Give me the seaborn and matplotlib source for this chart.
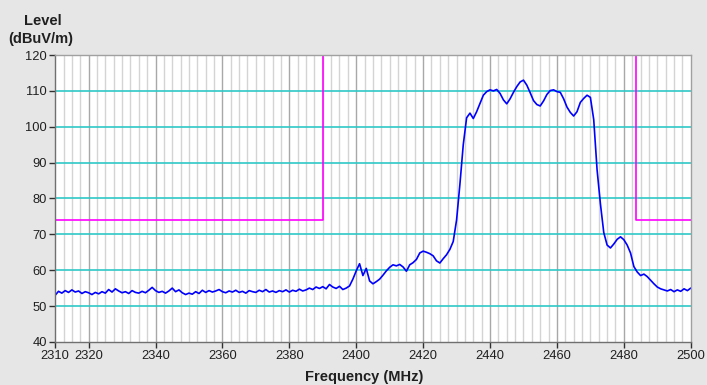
import matplotlib
matplotlib.use("Agg")
import matplotlib.pyplot as plt
import numpy as np
import seaborn as sns

# spectrum trace, one reading per MHz from 2310 to 2500
start_mhz = 2310
stop_mhz = 2500
level_dbuv = [
    53.0, 54.1, 53.6, 54.3, 53.8, 54.5, 53.9, 54.2, 53.5, 54.0,  # 2310
    53.7, 53.2, 53.8, 53.4, 54.0, 53.6, 54.6, 53.9, 54.8, 54.2,  # 2320
    53.7, 54.0, 53.5, 54.3, 53.8, 53.6, 54.1, 53.7, 54.4, 55.2,  # 2330
    54.3, 53.8, 54.1, 53.6, 54.2, 55.0, 54.0, 54.5, 53.7, 53.2,  # 2340
    53.6, 53.3, 54.0, 53.5, 54.4, 53.8, 54.3, 53.9, 54.2, 54.6,  # 2350
    54.0, 53.7, 54.2, 53.9, 54.4, 53.8, 54.1, 53.6, 54.3, 54.0,  # 2360
    53.8, 54.4, 54.0, 54.6, 53.9, 54.2, 53.8, 54.3, 54.0, 54.5,  # 2370
    53.9, 54.4, 54.1, 54.7, 54.2, 54.5, 55.0, 54.6, 55.3, 54.9,  # 2380
    55.4, 54.8, 56.0, 55.3, 54.9, 55.5, 54.6, 55.0, 55.6, 57.5,  # 2390
    59.8, 61.8, 58.5, 60.5, 57.0, 56.2, 56.8, 57.5, 58.6, 59.8,  # 2400
    60.8, 61.5, 61.2, 61.6, 60.9, 59.7, 61.5, 62.1, 63.0, 64.8,  # 2410
    65.3, 65.0, 64.6, 64.0, 62.6, 62.0, 63.2, 64.3, 65.8, 68.0,  # 2420
    74.0, 84.0, 95.0, 102.5, 103.8, 102.3, 104.2, 106.5, 108.8, 109.8,  # 2430
    110.3, 110.0, 110.4, 109.3, 107.5, 106.4, 107.8, 109.6, 111.2, 112.5,  # 2440
    113.0, 111.6, 109.5, 107.3, 106.2, 105.8, 107.2, 109.0, 110.1, 110.3,  # 2450
    109.8, 109.6, 107.8, 105.5, 104.0, 103.0, 104.2, 106.8, 107.9, 108.8,  # 2460
    108.2, 102.0, 88.0, 78.5, 70.5, 67.0, 66.2, 67.3, 68.6, 69.3,  # 2470
    68.5, 67.0, 64.8, 61.0, 59.5, 58.5, 58.9, 58.2, 57.2, 56.2,  # 2480
    55.3, 54.8, 54.5, 54.2, 54.6, 54.0, 54.5, 54.1, 54.8, 54.3,  # 2490
    55.0,  # 2500
]

# restricted-band limit lines
limit_low_freq = [2310, 2390, 2390]
limit_low_level = [74, 74, 120]
limit_high_freq = [2483.5, 2483.5, 2500]
limit_high_level = [120, 74, 74]

x_ticks = [2310, 2320, 2340, 2360, 2380, 2400, 2420, 2440, 2460, 2480, 2500]
y_ticks = [40, 50, 60, 70, 80, 90, 100, 110, 120]

BG = "#e6e6e6"


def main() -> None:
    sns.set_style("white")
    plt.rcParams["font.family"] = ["Liberation Sans", "DejaVu Sans"]

    freq = np.arange(start_mhz, stop_mhz + 1)
    assert len(freq) == len(level_dbuv)

    fig = plt.figure(figsize=(7.07, 3.85), dpi=100, facecolor=BG)
    ax = fig.add_axes([0.078, 0.112, 0.899, 0.745])
    ax.set_facecolor("white")

    # vertical grid: light every 2.5 MHz, darker every 20 MHz
    for f in np.arange(2312.5, 2500, 2.5):
        major = (f - 2320) % 20 == 0
        ax.axvline(f, color="#a8a8a8" if major else "#d4d4d4",
                   lw=1.0, zorder=0.5)
    for lv in y_ticks[1:-1]:
        ax.axhline(lv, color="#30c8c8", lw=1.2, zorder=0.6)

    sns.lineplot(x=limit_low_freq, y=limit_low_level, estimator=None, sort=False,
                 color="#ff00ff", lw=1.2, ax=ax)
    sns.lineplot(x=limit_high_freq, y=limit_high_level, estimator=None, sort=False,
                 color="#ff00ff", lw=1.2, ax=ax)
    sns.lineplot(x=freq, y=level_dbuv, estimator=None, color="#0000ff", lw=1.2, ax=ax)

    ax.set_xlim(2310, 2500)
    ax.set_ylim(40, 120)
    ax.set_xticks(x_ticks)
    ax.set_yticks(y_ticks)
    ax.tick_params(axis="both", direction="out", length=4, width=1,
                   color="#303030", labelsize=9.3, labelcolor="#202020", pad=2)
    ax.tick_params(left=True, bottom=True)
    for side, spine in ax.spines.items():
        spine.set_visible(True)
        spine.set_color("#707070" if side in ("left", "bottom") else "#a0a0a0")
        spine.set_linewidth(1.0)
    ax.set_xlabel("")
    ax.set_ylabel("")

    fig.text(0.060, 0.945, "Level", ha="center", va="center",
             fontsize=10.5, fontweight="bold", color="#202020")
    fig.text(0.057, 0.898, "(dBuV/m)", ha="center", va="center",
             fontsize=10.5, fontweight="bold", color="#202020")
    fig.text(0.515, 0.02, "Frequency (MHz)", ha="center", va="center",
             fontsize=10.5, fontweight="bold", color="#202020")

    fig.savefig("out.png", dpi=100, facecolor=BG)
    plt.close(fig)


if __name__ == "__main__":
    main()
